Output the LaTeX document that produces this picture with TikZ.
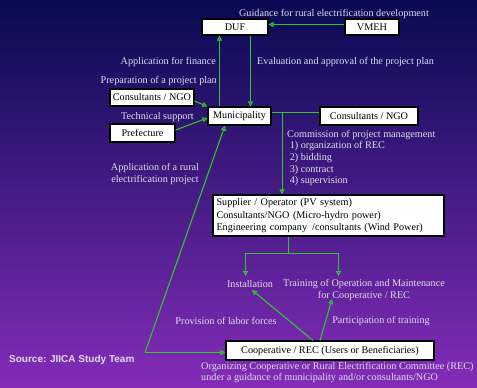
\documentclass[tikz,border=0pt]{standalone}
\usepackage{fontspec}
\setmainfont{Liberation Serif}
\setsansfont{Liberation Sans}
\usetikzlibrary{arrows.meta}
\definecolor{bgtop}{RGB}{8,10,82}
\definecolor{bgmid}{RGB}{26,26,198}
\definecolor{bgbot}{RGB}{132,44,184}
\definecolor{lnk}{RGB}{44,200,44}
\definecolor{lab}{RGB}{222,222,238}
\tikzset{
  box/.style={draw=black, line width=1.1pt, fill=white, text=black, inner sep=1pt},
  lbl/.style={text=lab, inner sep=0pt, align=center},
  arr/.style={draw=lnk, line width=1.1pt, -{Triangle[open,length=5pt,width=5pt]}},
  ln/.style={draw=lnk, line width=1.1pt},
}
\begin{document}
\begin{tikzpicture}[x=1pt,y=-1pt,font=\fontsize{10.2}{11.6}\selectfont]
  \shade[top color=bgtop, middle color=bgmid, bottom color=bgbot] (0,0) rectangle (477,388);
  \useasboundingbox (0,0) rectangle (477,388);
  % boxes
  \node[box, minimum width=66pt, minimum height=16pt] (duf) at (235,27) {DUF};
  \node[box, minimum width=54pt, minimum height=16pt] (vmeh) at (372,27) {VMEH};
  \node[box, minimum width=84pt, minimum height=17pt] (ngoa) at (152,97.5) {Consultants / NGO};
  \node[box, minimum width=63pt, minimum height=18pt] (muni) at (239.5,116) {Municipality};
  \node[box, minimum width=98pt, minimum height=18pt] (ngob) at (369,116) {Consultants / NGO};
  \node[box, minimum width=65pt, minimum height=18pt] (pref) at (142.5,133) {Prefecture};
  \node[box, minimum width=231pt, minimum height=41pt, align=left, text width=224pt] (supp) at (328.5,215.5)
    {Supplier / Operator (PV system)\\[1.5pt]
     Consultants/NGO (Micro-hydro power)\\
     Engineering company \,/consultants (Wind Power)};
  \node[box, minimum width=208pt, minimum height=19pt] (coop) at (330,350.5) {Cooperative / REC (Users or Beneficiaries)};
  % texts
  \node[lbl] (tguid) at (334,14) {Guidance for rural electrification development};
  \node[lbl, anchor=east] (tfin) at (216,62) {Application for finance};
  \node[lbl, anchor=west] (teval) at (257,62) {Evaluation and approval of the project plan};
  \node[lbl, anchor=east] (tprep) at (217,81) {Preparation of a project plan};
  \node[lbl, anchor=east] (ttech) at (194,117) {Technical support};
  \node[lbl, anchor=north west, align=left] (tcomm) at (287,130)
    {Commission of project management\\
     \ 1) organization of REC\\
     \ 2) bidding\\
     \ 3) contract\\
     \ 4) supervision};
  \node[lbl] (tappl) at (155,174) {Application of a rural\\ electrification project};
  \node[lbl] (inst) at (250,284) {Installation};
  \node[lbl] (train) at (364,290) {Training of Operation and Maintenance\\ for Cooperative / REC};
  \node[lbl] (tlab) at (226,321) {Provision of labor forces};
  \node[lbl] (tpart) at (381,321) {Participation of training};
  \node[lbl, anchor=north west, align=left] (torg) at (201,362)
    {Organizing Cooperative or Rural Electrification Committee (REC)\\
     under a guidance of municipality and/or consultants/NGO};
  \node[lbl, anchor=west, font=\sffamily\bfseries\fontsize{10}{11}\selectfont] (tsrc) at (9,360) {Source: JIICA Study Team};
  % connectors
  \draw[arr] ([yshift=2.5pt]vmeh.west) -- ([yshift=2.5pt]duf.east);
  \draw[arr] ([xshift=-20pt]muni.north) -- ([xshift=-20pt]muni.north |- duf.south);
  \draw[arr] ([xshift=15.5pt]duf.south) -- ([xshift=15.5pt]duf.south |- muni.north);
  \draw[arr] ([yshift=-3.5pt]ngoa.east) -- (muni.north west);
  \draw[arr] ([yshift=3pt]pref.east) -- ([yshift=-2pt]muni.west);
  \coordinate (junc) at ([xshift=10.5pt,yshift=3.5pt]muni.east);
  \draw[ln] ([yshift=3.5pt]muni.east) -- ([yshift=3.5pt]muni.east -| ngob.west);
  \draw[arr] (junc) -- (junc |- supp.north);
  \coordinate (split) at (288.5,253.5);
  \draw[ln] ([xshift=-40pt]supp.south) -- (split);
  \draw[arr] (split) -| (245.5,276);
  \draw[arr] (split) -| (338.5,276);
  \coordinate (bend) at (145,352.5);
  \draw[arr] ([yshift=-2pt]coop.west -| bend) -- ([yshift=-2pt]coop.west);
  \draw[arr] (bend) -- ([xshift=-14.5pt]muni.south);
  \draw[arr] ([xshift=-17pt]coop.north) -- (252,290);
  \draw[arr] ([xshift=-10pt]coop.north) -- (332,299);
\end{tikzpicture}
\end{document}
